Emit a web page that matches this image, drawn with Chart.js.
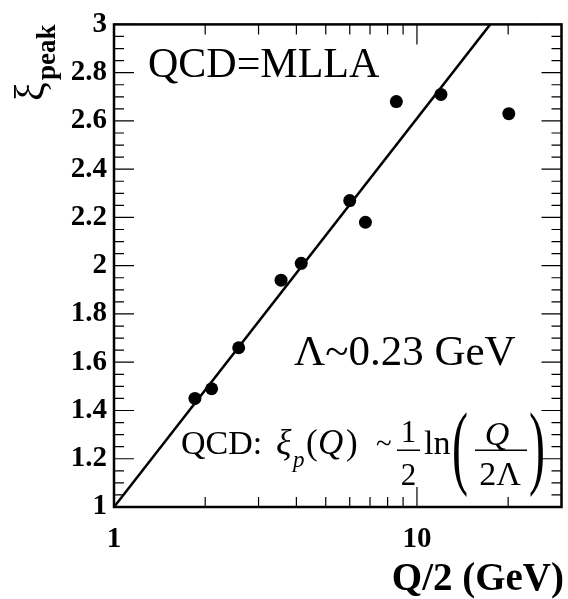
<!DOCTYPE html>
<html>
<head>
<meta charset="utf-8">
<script src="https://cdn.jsdelivr.net/npm/chart.js@4.4.1/dist/chart.umd.min.js"></script>
<style>
  html, body { margin: 0; padding: 0; background: #fff; }
  canvas { display: block; }
</style>
</head>
<body>
<canvas id="chart" width="568" height="599"></canvas>
<script>
// measured peak positions vs Q/2 (GeV)
const qHalf  = [1.85, 2.1, 2.58, 3.56, 4.15, 6.0, 6.76, 8.55, 12.0, 20.1];
const xiPeak = [1.45, 1.49, 1.66, 1.94, 2.01, 2.27, 2.18, 2.68, 2.71, 2.63];

// MLLA expectation, drawn as a straight line on the log axis
const lineX = [1, 17.45];
const lineY = [1, 3];

const xTicks = [1, 10];
const xTickLabels = ['1', '10'];
const yTicks = [1, 1.2, 1.4, 1.6, 1.8, 2, 2.2, 2.4, 2.6, 2.8, 3];
const yTickLabels = ['1', '1.2', '1.4', '1.6', '1.8', '2', '2.2', '2.4', '2.6', '2.8', '3'];

const SERIF = '"Liberation Serif", "Times New Roman", serif';

function put(ctx, s, x, y, font, align) {
  ctx.font = font;
  ctx.textAlign = align || 'left';
  ctx.fillText(s, x, y);
  return x + ctx.measureText(s).width;
}

// ROOT style frame: box plus inward ticks on all four sides
const frame = {
  id: 'frame',
  afterDatasetsDraw(chart) {
    const { ctx, chartArea: a, scales: { x, y } } = chart;
    ctx.save();
    ctx.strokeStyle = '#000';
    ctx.lineWidth = 1.2;
    ctx.beginPath();
    for (let i = 0; i <= 40; i++) {
      const py = y.getPixelForValue(1 + i * 0.05);
      const len = i % 4 === 0 ? 20 : 10;
      ctx.moveTo(a.left, py); ctx.lineTo(a.left + len, py);
      ctx.moveTo(a.right, py); ctx.lineTo(a.right - len, py);
    }
    for (let d = 1; d <= 10; d *= 10) {
      for (let m = 1; m <= 9; m++) {
        const v = m * d;
        if (v > x.max) break;
        const px = x.getPixelForValue(v);
        const len = m === 1 ? 20 : 10;
        ctx.moveTo(px, a.bottom); ctx.lineTo(px, a.bottom - len);
        ctx.moveTo(px, a.top); ctx.lineTo(px, a.top + len);
      }
    }
    ctx.stroke();
    ctx.lineWidth = 2.5;
    ctx.strokeRect(a.left, a.top, a.right - a.left, a.bottom - a.top);
    ctx.restore();
  },
  afterDraw(chart) {
    const ctx = chart.ctx;
    ctx.save();
    ctx.fillStyle = '#000';
    ctx.textBaseline = 'alphabetic';

    put(ctx, 'QCD=MLLA', 148, 77, '42px ' + SERIF);
    put(ctx, 'Λ~0.23 GeV', 294, 365, '43px ' + SERIF);

    // QCD: xi_p(Q) ~ 1/2 ln(Q / 2Lambda)
    const reg = '34px ' + SERIF, ita = 'italic 34px ' + SERIF;
    put(ctx, 'QCD:', 181, 454, reg);
    put(ctx, 'ξ', 276, 454, 'italic 36px ' + SERIF);
    put(ctx, 'p', 293, 467, 'italic 23px ' + SERIF);
    put(ctx, '(', 306, 454, '35px ' + SERIF);
    put(ctx, 'Q', 318, 454, 'italic 35px ' + SERIF);
    put(ctx, ')', 346, 454, '35px ' + SERIF);
    put(ctx, '~', 376, 453, '29px ' + SERIF);
    put(ctx, '1', 408.5, 442, '31px ' + SERIF, 'center');
    put(ctx, '2', 408.5, 485, '31px ' + SERIF, 'center');
    put(ctx, 'ln', 424, 454, reg);
    put(ctx, 'Q', 497, 445, ita, 'center');
    put(ctx, '2Λ', 500, 485, reg, 'center');
    ctx.fillRect(397, 449.5, 23, 1.5);
    ctx.fillRect(475, 449.5, 52, 1.5);
    for (const [s, px] of [['(', 452], [')', 529]]) {
      ctx.save();
      ctx.translate(px, 477);
      ctx.scale(1, 1.95);
      put(ctx, s, 0, 0, '48px ' + SERIF);
      ctx.restore();
    }

    // axis titles
    put(ctx, 'Q/2 (GeV)', 564, 590, 'bold 39px ' + SERIF, 'right');
    ctx.save();
    ctx.translate(44, 101);
    ctx.rotate(-Math.PI / 2);
    put(ctx, 'ξ', 0, 0, '42px ' + SERIF);
    put(ctx, 'peak', 21, 11, 'bold 27px ' + SERIF);
    ctx.restore();
    ctx.restore();
  }
};

const ctx = document.getElementById('chart').getContext('2d');
new Chart(ctx, {
  type: 'scatter',
  data: {
    datasets: [
      {
        label: 'data',
        data: qHalf.map((q, i) => ({ x: q, y: xiPeak[i] })),
        pointRadius: 6.5,
        pointBackgroundColor: '#000',
        pointBorderWidth: 0,
        showLine: false,
      },
      {
        label: 'MLLA',
        data: lineX.map((q, i) => ({ x: q, y: lineY[i] })),
        showLine: true,
        pointRadius: 0,
        borderColor: '#000',
        borderWidth: 2.5,
      },
    ],
  },
  options: {
    responsive: false,
    animation: false,
    devicePixelRatio: 1,
    layout: { padding: { top: 20, right: 3, left: 0, bottom: 0 } },
    plugins: { legend: { display: false }, tooltip: { enabled: false } },
    scales: {
      x: {
        type: 'logarithmic',
        min: 1,
        max: 30,
        afterBuildTicks: s => { s.ticks = xTicks.map(v => ({ value: v })); },
        afterFit: s => { s.height = 92; },
        grid: { display: false, drawTicks: false },
        border: { display: false },
        ticks: {
          color: '#000',
          padding: 15,
          maxRotation: 0,
          font: { family: SERIF, size: 29, weight: 'bold' },
          callback: v => xTickLabels[xTicks.indexOf(v)],
        },
      },
      y: {
        min: 1,
        max: 3,
        afterBuildTicks: s => { s.ticks = yTicks.map(v => ({ value: v })); },
        afterFit: s => { s.width = 114; },
        grid: { display: false, drawTicks: false },
        border: { display: false },
        ticks: {
          color: '#000',
          padding: 7,
          font: { family: SERIF, size: 29, weight: 'bold' },
          callback: v => yTickLabels[yTicks.findIndex(t => Math.abs(t - v) < 1e-6)],
        },
      },
    },
  },
  plugins: [frame],
});
</script>
</body>
</html>
